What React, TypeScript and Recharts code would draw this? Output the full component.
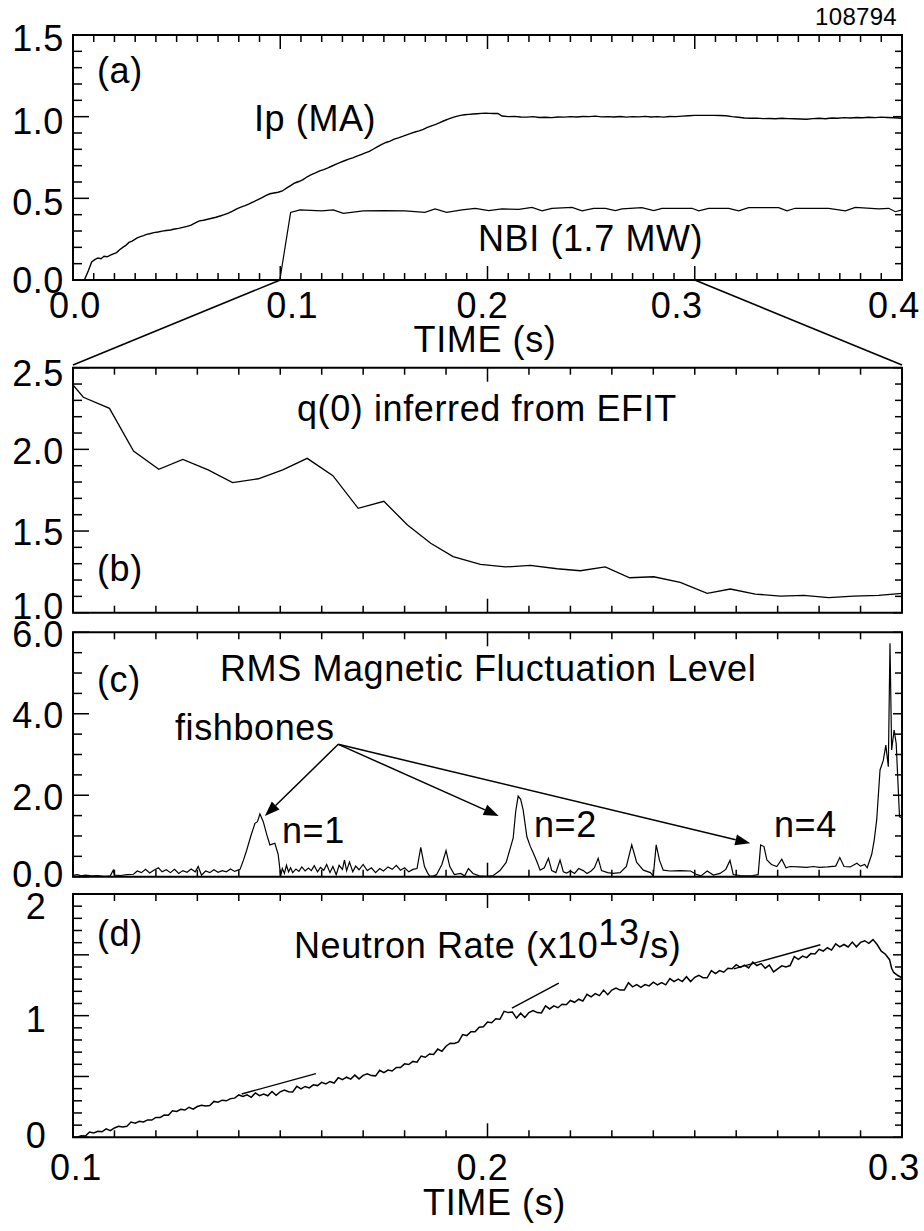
import React from 'react';
import { LineChart, Line, XAxis, YAxis, ReferenceArea, ReferenceLine } from 'recharts';

const FONT = '"Liberation Sans", Arial, Helvetica, sans-serif';
const W = 924;
const H = 1231;
const LEFT = 73;
const RIGHT = 902;
const X_AXIS_H = 40;
const FS = 36;

// ---- tick labels ----
const TIME_FULL_LABELS = ['0.0', '0.1', '0.2', '0.3', '0.4'];
const TIME_ZOOM_LABELS = ['0.1', '0.2', '0.3'];
const IP_Y_LABELS = ['0.0', '0.5', '1.0', '1.5'];
const Q0_Y_LABELS = ['1.0', '1.5', '2.0', '2.5'];
const RMS_Y_LABELS = ['0.0', '2.0', '4.0', '6.0'];
const NEUTRON_Y_LABELS = ['0', '1', '2'];

// ---- (a) plasma current, MA ----
const IP_TRACE: [number, number][] = [
  [0.0055, 0], [0.0075, 0.06], [0.009, 0.11], [0.0105, 0.125], [0.012, 0.135], [0.0135, 0.13], [0.015, 0.145],
  [0.0165, 0.142], [0.018, 0.152], [0.0195, 0.16], [0.021, 0.168], [0.0225, 0.185], [0.024, 0.2], [0.0255, 0.212],
  [0.027, 0.23], [0.0285, 0.238], [0.031, 0.258], [0.0325, 0.266], [0.034, 0.272], [0.0355, 0.279], [0.037, 0.283],
  [0.039, 0.29], [0.041, 0.294], [0.043, 0.299], [0.045, 0.303], [0.047, 0.306], [0.049, 0.312], [0.051, 0.316],
  [0.053, 0.322], [0.055, 0.328], [0.057, 0.336], [0.059, 0.35], [0.061, 0.362], [0.063, 0.366], [0.065, 0.372],
  [0.067, 0.378], [0.069, 0.384], [0.071, 0.392], [0.073, 0.4], [0.075, 0.41], [0.077, 0.422], [0.079, 0.436],
  [0.081, 0.446], [0.083, 0.455], [0.085, 0.466], [0.087, 0.478], [0.089, 0.49], [0.091, 0.503], [0.093, 0.517],
  [0.095, 0.528], [0.097, 0.533], [0.099, 0.537], [0.101, 0.545], [0.103, 0.562], [0.105, 0.578], [0.107, 0.594],
  [0.109, 0.603], [0.111, 0.615], [0.113, 0.632], [0.115, 0.645], [0.117, 0.656], [0.119, 0.668], [0.121, 0.676],
  [0.123, 0.686], [0.125, 0.698], [0.127, 0.71], [0.129, 0.72], [0.131, 0.73], [0.133, 0.74], [0.135, 0.748],
  [0.137, 0.758], [0.139, 0.768], [0.141, 0.778], [0.143, 0.788], [0.145, 0.802], [0.147, 0.817], [0.149, 0.83],
  [0.151, 0.842], [0.153, 0.85], [0.155, 0.862], [0.157, 0.87], [0.159, 0.879], [0.161, 0.889], [0.163, 0.898],
  [0.165, 0.906], [0.167, 0.913], [0.169, 0.922], [0.171, 0.934], [0.173, 0.944], [0.175, 0.953], [0.177, 0.963],
  [0.179, 0.975], [0.181, 0.985], [0.183, 0.994], [0.185, 1.002], [0.187, 1.008], [0.189, 1.012], [0.191, 1.014],
  [0.193, 1.016], [0.195, 1.018], [0.197, 1.02], [0.199, 1.021], [0.201, 1.02], [0.203, 1.019], [0.205, 1.02],
  [0.207, 1.004], [0.21, 1.0], [0.213, 1.002], [0.216, 0.998], [0.219, 0.997], [0.222, 1.0], [0.225, 0.995],
  [0.228, 0.996], [0.231, 0.994], [0.234, 0.998], [0.237, 0.997], [0.24, 1.0], [0.243, 0.998], [0.246, 1.001],
  [0.249, 1.0], [0.252, 1.003], [0.255, 0.999], [0.258, 1.0], [0.261, 0.998], [0.264, 1.001], [0.267, 0.997],
  [0.27, 1.0], [0.273, 0.999], [0.276, 1.002], [0.279, 0.998], [0.282, 1.0], [0.285, 0.997], [0.288, 1.001],
  [0.291, 1.0], [0.294, 1.003], [0.297, 1.006], [0.3, 1.008], [0.303, 1.008], [0.306, 1.008], [0.309, 1.008],
  [0.312, 1.007], [0.315, 1.006], [0.318, 1.0], [0.321, 0.996], [0.324, 0.992], [0.327, 0.99], [0.33, 0.991],
  [0.333, 0.988], [0.336, 0.989], [0.339, 0.987], [0.342, 0.99], [0.345, 0.988], [0.348, 0.987], [0.351, 0.986],
  [0.354, 0.984], [0.357, 0.988], [0.36, 0.99], [0.363, 0.987], [0.366, 0.992], [0.369, 0.99], [0.372, 0.994],
  [0.375, 0.992], [0.378, 0.995], [0.381, 0.993], [0.384, 0.996], [0.387, 0.994], [0.39, 0.997], [0.393, 0.995],
  [0.396, 0.993], [0.4, 0.99],
];

// ---- (a) neutral beam power (scaled to the Ip axis) ----
const NBI_TRACE: [number, number][] = [
  [0.0998, 0], [0.105, 0.413], [0.1095, 0.429], [0.12, 0.423], [0.1256, 0.429], [0.1304, 0.408], [0.1401, 0.423],
  [0.1497, 0.425], [0.1602, 0.423], [0.1698, 0.414], [0.1747, 0.435], [0.1803, 0.414], [0.1877, 0.429],
  [0.1941, 0.439], [0.2006, 0.425], [0.207, 0.435], [0.2151, 0.433], [0.2215, 0.445], [0.2263, 0.423],
  [0.2311, 0.439], [0.2408, 0.445], [0.2456, 0.423], [0.2512, 0.439], [0.2569, 0.439], [0.2617, 0.425],
  [0.2649, 0.435], [0.2745, 0.443], [0.2802, 0.425], [0.2842, 0.439], [0.2987, 0.439], [0.3019, 0.423],
  [0.3067, 0.439], [0.3164, 0.439], [0.3212, 0.423], [0.326, 0.443], [0.3405, 0.443], [0.3445, 0.423],
  [0.3485, 0.439], [0.3646, 0.439], [0.3727, 0.423], [0.3775, 0.445], [0.3888, 0.435], [0.3936, 0.439],
  [0.3968, 0.418], [0.4, 0.429],
];

// ---- (b) q(0) from EFIT ----
const Q0_TRACE: [number, number][] = [
  [0.1, 2.394], [0.1025, 2.319], [0.1088, 2.251], [0.1146, 1.99], [0.1207, 1.878], [0.1265, 1.939], [0.1326, 1.874],
  [0.1385, 1.796], [0.1447, 1.82], [0.1506, 1.874], [0.1565, 1.945], [0.1627, 1.839], [0.1688, 1.639], [0.175, 1.682],
  [0.1807, 1.537], [0.1863, 1.425], [0.1917, 1.343], [0.1983, 1.296], [0.2043, 1.28], [0.2103, 1.29], [0.2168, 1.269],
  [0.2224, 1.257], [0.2284, 1.28], [0.2343, 1.214], [0.2401, 1.22], [0.2465, 1.186], [0.253, 1.118], [0.2586, 1.145],
  [0.2646, 1.114], [0.2707, 1.102], [0.2763, 1.106], [0.2823, 1.092], [0.2883, 1.102], [0.2944, 1.106], [0.3, 1.118],
];

// ---- (c) RMS magnetic fluctuation level ----
const RMS_TRACE: [number, number][] = [
  [0.1, 0.03], [0.101, 0.05], [0.102, 0.02], [0.103, 0.04], [0.1045, 0.02], [0.106, 0.03], [0.1075, 0.01], [0.109, 0.02],
  [0.1097, 0.16], [0.11, 0.04], [0.1115, 0.03], [0.113, 0.05], [0.1146, 0.06], [0.1155, 0.14], [0.1165, 0.1],
  [0.1175, 0.18], [0.1185, 0.09], [0.1195, 0.16], [0.1206, 0.22], [0.1215, 0.12], [0.1225, 0.17], [0.1235, 0.1],
  [0.1245, 0.18], [0.1255, 0.08], [0.1265, 0.15], [0.1275, 0.11], [0.1285, 0.19], [0.1295, 0.12], [0.1302, 0.25],
  [0.131, 0.04], [0.132, 0.14], [0.133, 0.1], [0.134, 0.17], [0.135, 0.11], [0.136, 0.15], [0.137, 0.12], [0.138, 0.19],
  [0.139, 0.13], [0.1403, 0.18], [0.1411, 0.4], [0.1419, 0.65], [0.1429, 1.0], [0.1439, 1.31], [0.1445, 1.35],
  [0.1451, 1.54], [0.1459, 1.35], [0.1467, 1.05], [0.1475, 0.78], [0.1481, 0.8], [0.1487, 0.82], [0.1495, 0.55],
  [0.1501, 0.02], [0.1505, 0.2], [0.151, 0.08], [0.1515, 0.28], [0.152, 0.12], [0.1525, 0.22], [0.153, 0.1],
  [0.1538, 0.19], [0.1545, 0.13], [0.1552, 0.24], [0.156, 0.14], [0.1568, 0.21], [0.1575, 0.15], [0.1582, 0.27],
  [0.159, 0.12], [0.1597, 0.23], [0.1605, 0.16], [0.1612, 0.3], [0.162, 0.1], [0.1627, 0.25], [0.1635, 0.05],
  [0.1642, 0.28], [0.165, 0.18], [0.1655, 0.41], [0.166, 0.15], [0.1667, 0.36], [0.1675, 0.12], [0.1682, 0.26],
  [0.169, 0.17], [0.17, 0.3], [0.171, 0.15], [0.172, 0.22], [0.173, 0.1], [0.174, 0.2], [0.1749, 0.14], [0.176, 0.24],
  [0.177, 0.18], [0.178, 0.28], [0.179, 0.16], [0.18, 0.22], [0.181, 0.12], [0.182, 0.18], [0.183, 0.2], [0.1839, 0.72],
  [0.1848, 0.25], [0.1855, 0.1], [0.1861, 0.01], [0.187, 0.02], [0.1877, 0.05], [0.189, 0.3], [0.19, 0.64],
  [0.1909, 0.25], [0.192, 0.05], [0.1935, 0.08], [0.1945, 0.02], [0.1954, 0.2], [0.1965, 0.08], [0.198, 0.02],
  [0.1998, 0.01], [0.2014, 0.03], [0.203, 0.15], [0.2045, 0.35], [0.2055, 0.7], [0.2062, 0.95], [0.2068, 1.6],
  [0.2074, 1.98], [0.208, 1.9], [0.2086, 1.64], [0.2095, 0.98], [0.2103, 0.75], [0.2111, 0.57], [0.212, 0.35],
  [0.2127, 0.16], [0.2137, 0.22], [0.2147, 0.45], [0.2155, 0.15], [0.2165, 0.1], [0.2175, 0.41], [0.2183, 0.12],
  [0.2191, 0.09], [0.22, 0.14], [0.221, 0.08], [0.222, 0.2], [0.2231, 0.15], [0.224, 0.08], [0.225, 0.14], [0.2258, 0.22],
  [0.2267, 0.45], [0.2275, 0.15], [0.229, 0.1], [0.2303, 0.08], [0.232, 0.1], [0.2335, 0.25], [0.2348, 0.78],
  [0.236, 0.35], [0.2376, 0.16], [0.2393, 0.1], [0.24, 0.02], [0.2407, 0.78], [0.2415, 0.4], [0.2424, 0.16],
  [0.244, 0.14], [0.2464, 0.15], [0.249, 0.14], [0.2505, 0.05], [0.2515, 0.02], [0.253, 0.14], [0.2545, 0.04],
  [0.2561, 0.08], [0.2575, 0.18], [0.2585, 0.4], [0.2593, 0.05], [0.261, 0.03], [0.2625, 0.02], [0.264, 0.03],
  [0.2653, 0.05], [0.2659, 0.78], [0.2667, 0.74], [0.2674, 0.41], [0.2685, 0.3], [0.2698, 0.25], [0.271, 0.43],
  [0.272, 0.22], [0.273, 0.25], [0.275, 0.24], [0.277, 0.23], [0.2786, 0.25], [0.28, 0.23], [0.282, 0.24],
  [0.284, 0.26], [0.285, 0.47], [0.286, 0.25], [0.2875, 0.24], [0.2891, 0.33], [0.29, 0.26], [0.291, 0.3],
  [0.2916, 0.22], [0.2927, 0.55], [0.2933, 0.9], [0.2939, 1.4], [0.2947, 2.62], [0.2955, 2.86], [0.2961, 3.23],
  [0.2967, 2.7], [0.2971, 5.73], [0.2975, 3.11], [0.2981, 3.6], [0.2986, 3.27], [0.2994, 1.47], [0.3, 1.45],
];

// ---- (d) neutron rate, 1e13/s ----
const NEUTRON_TRACE: [number, number][] = [
  [0.1, 0], [0.101, 0], [0.102, 0.013], [0.103, 0.01], [0.104, 0.043], [0.105, 0.035], [0.106, 0.05], [0.107, 0.045],
  [0.108, 0.07], [0.109, 0.055], [0.11, 0.077], [0.111, 0.09], [0.112, 0.085], [0.113, 0.09], [0.114, 0.125],
  [0.115, 0.116], [0.116, 0.132], [0.117, 0.126], [0.118, 0.143], [0.119, 0.142], [0.12, 0.163], [0.121, 0.162],
  [0.122, 0.183], [0.123, 0.182], [0.124, 0.218], [0.125, 0.213], [0.126, 0.23], [0.127, 0.224], [0.128, 0.247],
  [0.129, 0.231], [0.13, 0.253], [0.131, 0.264], [0.132, 0.257], [0.133, 0.261], [0.134, 0.295], [0.135, 0.288],
  [0.136, 0.305], [0.137, 0.3], [0.138, 0.318], [0.139, 0.322], [0.14, 0.348], [0.141, 0.335], [0.142, 0.349],
  [0.143, 0.329], [0.144, 0.365], [0.145, 0.342], [0.146, 0.355], [0.147, 0.341], [0.148, 0.376], [0.149, 0.345],
  [0.15, 0.374], [0.151, 0.388], [0.152, 0.375], [0.153, 0.373], [0.154, 0.419], [0.155, 0.398], [0.156, 0.418],
  [0.157, 0.406], [0.158, 0.431], [0.159, 0.425], [0.16, 0.452], [0.161, 0.439], [0.162, 0.459], [0.163, 0.446],
  [0.164, 0.49], [0.165, 0.474], [0.166, 0.494], [0.167, 0.478], [0.168, 0.511], [0.169, 0.48], [0.17, 0.509],
  [0.171, 0.522], [0.172, 0.507], [0.173, 0.505], [0.174, 0.551], [0.175, 0.532], [0.176, 0.553], [0.177, 0.545],
  [0.178, 0.574], [0.179, 0.573], [0.18, 0.604], [0.181, 0.598], [0.182, 0.624], [0.183, 0.618], [0.184, 0.668],
  [0.185, 0.658], [0.186, 0.685], [0.187, 0.681], [0.188, 0.726], [0.189, 0.707], [0.19, 0.749], [0.191, 0.774],
  [0.192, 0.772], [0.193, 0.784], [0.194, 0.844], [0.195, 0.836], [0.196, 0.868], [0.197, 0.868], [0.198, 0.904],
  [0.199, 0.909], [0.2, 0.947], [0.201, 0.942], [0.202, 0.975], [0.203, 0.97], [0.204, 1.035], [0.205, 1.025],
  [0.206, 1.03], [0.207, 0.98], [0.208, 1.02], [0.209, 0.985], [0.21, 1.025], [0.211, 1.042], [0.212, 1.025],
  [0.213, 1.022], [0.214, 1.08], [0.215, 1.055], [0.216, 1.08], [0.217, 1.065], [0.218, 1.094], [0.219, 1.09],
  [0.22, 1.125], [0.221, 1.11], [0.222, 1.135], [0.223, 1.12], [0.224, 1.175], [0.225, 1.155], [0.226, 1.181],
  [0.227, 1.165], [0.228, 1.21], [0.229, 1.172], [0.23, 1.21], [0.231, 1.227], [0.232, 1.21], [0.233, 1.21],
  [0.234, 1.27], [0.235, 1.237], [0.236, 1.255], [0.237, 1.232], [0.238, 1.255], [0.239, 1.245], [0.24, 1.275],
  [0.241, 1.253], [0.242, 1.272], [0.243, 1.253], [0.244, 1.305], [0.245, 1.28], [0.246, 1.3], [0.247, 1.28],
  [0.248, 1.32], [0.249, 1.28], [0.25, 1.315], [0.251, 1.331], [0.252, 1.312], [0.253, 1.311], [0.254, 1.37],
  [0.255, 1.345], [0.256, 1.37], [0.257, 1.357], [0.258, 1.39], [0.259, 1.385], [0.26, 1.419], [0.261, 1.397],
  [0.262, 1.415], [0.263, 1.392], [0.264, 1.44], [0.265, 1.412], [0.266, 1.428], [0.267, 1.39], [0.268, 1.415],
  [0.269, 1.36], [0.27, 1.385], [0.271, 1.41], [0.272, 1.4], [0.273, 1.412], [0.274, 1.485], [0.275, 1.463],
  [0.276, 1.49], [0.277, 1.477], [0.278, 1.51], [0.279, 1.507], [0.28, 1.545], [0.281, 1.531], [0.282, 1.558],
  [0.283, 1.539], [0.284, 1.59], [0.285, 1.565], [0.286, 1.585], [0.287, 1.565], [0.288, 1.605], [0.289, 1.566],
  [0.29, 1.602], [0.291, 1.616], [0.292, 1.595], [0.293, 1.625], [0.294, 1.585], [0.295, 1.53], [0.296, 1.505],
  [0.297, 1.46], [0.2975, 1.39], [0.298, 1.355], [0.299, 1.33], [0.3, 1.31],
];

// straight-line guides drawn on the neutron trace
const NEUTRON_FIT_1: [number, number][] = [[0.1407, 0.356], [0.1586, 0.523]];
const NEUTRON_FIT_2: [number, number][] = [[0.2059, 1.062], [0.2172, 1.267]];
const NEUTRON_FIT_3: [number, number][] = [[0.2594, 1.385], [0.2803, 1.583]];

// fishbone arrows in panel (c): shared tail, three heads
const FISHBONE_TAIL = { t: 0.164, v: 3.25 };
const FISHBONE_HEADS = [
  { t: 0.1463, v: 1.49 },
  { t: 0.2027, v: 1.49 },
  { t: 0.2634, v: 0.82 },
];

// time window of panel (a) that panels (b)-(d) zoom into
const ZOOM_WINDOW = [0.1, 0.3];

const rows = (pairs: [number, number][]) => pairs.map(([t, v]) => ({ t, v }));

const range = (min: number, max: number, step: number) =>
  Array.from({ length: Math.round((max - min) / step) + 1 }, (_, i) => +(min + i * step).toFixed(5));

const onStep = (v: number, step: number) => Math.abs(v / step - Math.round(v / step)) < 1e-6;

interface PanelCfg {
  top: number;
  bottom: number;
  xMin: number;
  xMax: number;
  xLabels?: string[];
  xNudge?: number[];
  xLabelDrop?: number;
  yMin: number;
  yMax: number;
  yStep: number;
  yLong: number;
  yLabels: string[];
  yNudge: number[];
  yLabelX: number;
  yAnchor: 'end' | 'middle';
}

const PANEL_A: PanelCfg = {
  top: 35, bottom: 280, xMin: 0, xMax: 0.4,
  xLabels: TIME_FULL_LABELS, xNudge: [2, 12, -5, -18, -8], xLabelDrop: 38,
  yMin: 0, yMax: 1.5, yStep: 0.1, yLong: 0.5, yLabels: IP_Y_LABELS, yNudge: [0, 4, 4, 3], yLabelX: 64, yAnchor: 'end',
};
const PANEL_B: PanelCfg = {
  top: 367.7, bottom: 612.7, xMin: 0.1, xMax: 0.3,
  yMin: 1, yMax: 2.5, yStep: 0.1, yLong: 0.5, yLabels: Q0_Y_LABELS, yNudge: [-7, 1, 2, 5], yLabelX: 64, yAnchor: 'end',
};
const PANEL_C: PanelCfg = {
  top: 632.3, bottom: 876.7, xMin: 0.1, xMax: 0.3,
  yMin: 0, yMax: 6, yStep: 0.5, yLong: 2, yLabels: RMS_Y_LABELS, yNudge: [-3, 2, 1, 2], yLabelX: 64, yAnchor: 'end',
};
const PANEL_D: PanelCfg = {
  top: 894, bottom: 1137.3, xMin: 0.1, xMax: 0.3,
  xLabels: TIME_ZOOM_LABELS, xNudge: [3, -5, -8], xLabelDrop: 43,
  yMin: 0, yMax: 2, yStep: 0.1, yLong: 0.5, yLabels: NEUTRON_Y_LABELS, yNudge: [-2, 3, 12], yLabelX: 36, yAnchor: 'middle',
};

const TXT = { fontFamily: FONT, fill: '#000', letterSpacing: 0.6 };

// ticks on bottom + top edges, labels below
const makeXTick = (cfg: PanelCfg) => (props: any) => {
  const x = Number(props.x);
  const value = Number(props.payload?.value);
  const len = onStep(value, 0.1) ? 14 : 7;
  const idx = cfg.xLabels ? cfg.xLabels.findIndex((l) => Math.abs(parseFloat(l) - value) < 1e-6) : -1;
  return (
    <g>
      <line x1={x} x2={x} y1={cfg.bottom} y2={cfg.bottom - len} stroke="#000" strokeWidth={1.5} />
      <line x1={x} x2={x} y1={cfg.top} y2={cfg.top + len} stroke="#000" strokeWidth={1.5} />
      {idx >= 0 && (
        <text
          x={x + (cfg.xNudge ? cfg.xNudge[idx] : 0)}
          y={cfg.bottom + (cfg.xLabelDrop || 38)}
          textAnchor="middle"
          fontSize={FS}
          {...TXT}
        >
          {cfg.xLabels![idx]}
        </text>
      )}
    </g>
  );
};

// ticks on left + right edges, labels left
const makeYTick = (cfg: PanelCfg) => (props: any) => {
  const y = Number(props.y);
  const value = Number(props.payload?.value);
  const major = onStep(value, cfg.yLong);
  const idx = cfg.yLabels.findIndex((l) => Math.abs(parseFloat(l) - value) < 1e-6);
  return (
    <g>
      <line x1={LEFT} x2={LEFT + (major ? 16 : 9)} y1={y} y2={y} stroke="#000" strokeWidth={1.5} />
      <line x1={RIGHT} x2={RIGHT - (major ? 9 : 7)} y1={y} y2={y} stroke="#000" strokeWidth={1.5} />
      {idx >= 0 && (
        <text x={cfg.yLabelX} y={y + cfg.yNudge[idx] + 13} textAnchor={cfg.yAnchor} fontSize={FS} {...TXT}>
          {cfg.yLabels[idx]}
        </text>
      )}
    </g>
  );
};

// dense beam-power scale on the right edge of (a)
const NBI_SCALE_TICKS = range(0, 0.5, 0.5 / 30);
const nbiTick = (props: any) => {
  const y = Number(props.y);
  const value = Number(props.payload?.value);
  const len = Math.abs(value - 0.25) < 1e-6 ? 17 : Math.abs(value - 0.5) < 1e-6 ? 9 : 5;
  return <line x1={RIGHT} x2={RIGHT - len} y1={y} y2={y} stroke="#000" strokeWidth={1.2} />;
};

const timeLabel = (baseline: number, dx: number) => ({
  content: (p: any) => {
    const vb = p.viewBox || {};
    const cx = vb.width ? vb.x + vb.width / 2 : (LEFT + RIGHT) / 2;
    return (
      <text x={cx + dx} y={baseline} textAnchor="middle" fontSize={FS} {...TXT}>
        TIME (s)
      </text>
    );
  },
});

const Arrow = (props: any) => {
  const x1 = Number(props.x1);
  const y1 = Number(props.y1);
  const x2 = Number(props.x2);
  const y2 = Number(props.y2);
  const a = Math.atan2(y2 - y1, x2 - x1);
  const L = 15;
  const hw = 5.5;
  const bx = x2 - L * Math.cos(a);
  const by = y2 - L * Math.sin(a);
  const pts = `${x2},${y2} ${bx + hw * Math.sin(a)},${by - hw * Math.cos(a)} ${bx - hw * Math.sin(a)},${by + hw * Math.cos(a)}`;
  return (
    <g>
      <line x1={x1} y1={y1} x2={bx} y2={by} stroke="#000" strokeWidth={1.5} />
      <polygon points={pts} fill="#000" />
    </g>
  );
};

const Panel = ({ cfg, extra, timeAxisLabel, children }: any) => (
  <div style={{ position: 'absolute', left: 0, top: 0, width: W, height: H }}>
    <LineChart
      width={W}
      height={H}
      margin={{ top: cfg.top, right: extra ? 0 : W - RIGHT, bottom: H - cfg.bottom - X_AXIS_H, left: 0 }}
    >
      <XAxis
        type="number"
        dataKey="t"
        domain={[cfg.xMin, cfg.xMax]}
        allowDataOverflow
        ticks={range(cfg.xMin, cfg.xMax, 0.01)}
        interval={0}
        tickSize={0}
        tickMargin={0}
        tickLine={false}
        axisLine={false}
        tick={makeXTick(cfg)}
        height={X_AXIS_H}
        label={timeAxisLabel}
      />
      <YAxis
        type="number"
        domain={[cfg.yMin, cfg.yMax]}
        allowDataOverflow
        ticks={range(cfg.yMin, cfg.yMax, cfg.yStep)}
        interval={0}
        tickSize={0}
        tickMargin={0}
        tickLine={false}
        axisLine={false}
        tick={makeYTick(cfg)}
        width={LEFT}
      />
      {extra}
      <ReferenceArea
        x1={cfg.xMin}
        x2={cfg.xMax}
        y1={cfg.yMin}
        y2={cfg.yMax}
        fill="none"
        fillOpacity={0}
        stroke="#000"
        strokeWidth={2}
        ifOverflow="visible"
      />
      {children}
    </LineChart>
  </div>
);

const traceProps = { type: 'linear' as const, dataKey: 'v', stroke: '#000', dot: false, isAnimationActive: false };

export default function App() {
  return (
    <div style={{ position: 'absolute', left: 0, top: 0, width: W, height: H, background: '#fff', overflow: 'hidden' }}>
      <Panel
        cfg={PANEL_A}
        timeAxisLabel={timeLabel(352, -2.5)}
        extra={
          <YAxis
            yAxisId="nbi"
            orientation="right"
            type="number"
            domain={[0, 1.5]}
            ticks={NBI_SCALE_TICKS}
            interval={0}
            tickSize={0}
            tickMargin={0}
            tickLine={false}
            axisLine={false}
            tick={nbiTick}
            width={W - RIGHT}
          />
        }
      >
        <Line {...traceProps} data={rows(IP_TRACE)} strokeWidth={1.4} />
        <Line {...traceProps} data={rows(NBI_TRACE)} strokeWidth={1.2} />
        <ReferenceLine
          segment={[{ x: ZOOM_WINDOW[0], y: 0 }, { x: PANEL_A.xMin, y: -0.52 }]}
          stroke="#000"
          strokeWidth={1.6}
          ifOverflow="visible"
        />
        <ReferenceLine
          segment={[{ x: ZOOM_WINDOW[1], y: 0 }, { x: PANEL_A.xMax, y: -0.52 }]}
          stroke="#000"
          strokeWidth={1.6}
          ifOverflow="visible"
        />
      </Panel>

      <Panel cfg={PANEL_B}>
        <Line {...traceProps} data={rows(Q0_TRACE)} strokeWidth={1.3} />
      </Panel>

      <Panel cfg={PANEL_C}>
        <Line {...traceProps} data={rows(RMS_TRACE)} strokeWidth={1.2} />
        {FISHBONE_HEADS.map((h, i) => (
          <ReferenceLine
            key={`fb-${i}`}
            segment={[{ x: FISHBONE_TAIL.t, y: FISHBONE_TAIL.v }, { x: h.t, y: h.v }]}
            ifOverflow="visible"
            shape={Arrow}
          />
        ))}
      </Panel>

      <Panel cfg={PANEL_D} timeAxisLabel={timeLabel(1215, 7)}>
        <Line {...traceProps} data={rows(NEUTRON_TRACE)} strokeWidth={1.5} />
        <Line {...traceProps} data={rows(NEUTRON_FIT_1)} strokeWidth={1.4} />
        <Line {...traceProps} data={rows(NEUTRON_FIT_2)} strokeWidth={1.4} />
        <Line {...traceProps} data={rows(NEUTRON_FIT_3)} strokeWidth={1.4} />
      </Panel>

      <svg width={W} height={H} style={{ position: 'absolute', left: 0, top: 0, pointerEvents: 'none' }}>
        <text x={897} y={25} textAnchor="end" fontSize={24} {...TXT} letterSpacing={0.3}>108794</text>
        <text x={97} y={83} fontSize={FS} {...TXT}>(a)</text>
        <text x={254} y={131} fontSize={FS} {...TXT}>Ip (MA)</text>
        <text x={478} y={251} fontSize={FS} {...TXT}>NBI (1.7 MW)</text>
        <text x={297} y={421} fontSize={FS} {...TXT}>q(0) inferred from EFIT</text>
        <text x={97} y={581} fontSize={FS} {...TXT}>(b)</text>
        <text x={97} y={692} fontSize={FS} {...TXT}>(c)</text>
        <text x={220} y={681} fontSize={FS} {...TXT}>RMS Magnetic Fluctuation Level</text>
        <text x={175} y={740} fontSize={FS} {...TXT}>fishbones</text>
        <text x={282} y={843} fontSize={FS} {...TXT}>n=1</text>
        <text x={534} y={837} fontSize={FS} {...TXT}>n=2</text>
        <text x={774} y={837} fontSize={FS} {...TXT}>n=4</text>
        <text x={97} y={946} fontSize={FS} {...TXT}>(d)</text>
        <text x={294} y={958} fontSize={FS} {...TXT}>
          Neutron Rate (x10<tspan dy={-13}>13</tspan>
          <tspan dy={13}>/s)</tspan>
        </text>
      </svg>
    </div>
  );
}
